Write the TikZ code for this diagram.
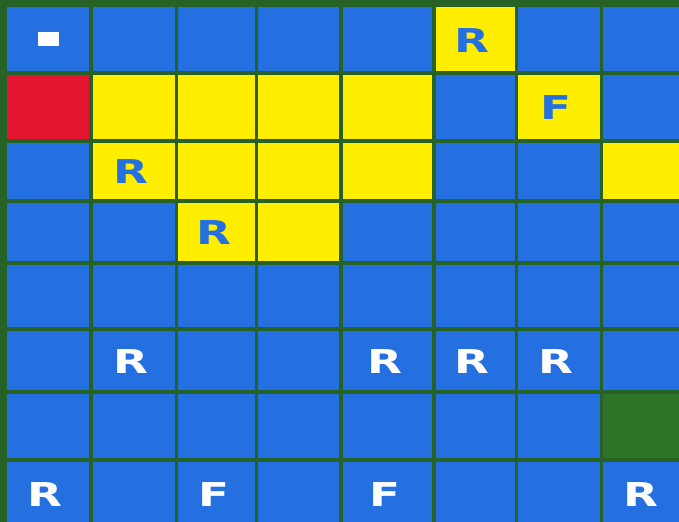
\documentclass[tikz,border=0pt]{standalone}
\usepackage{fontspec}
\setmainfont{DejaVu Sans}
\usepackage{graphicx}
\usepackage{tikz}
\usetikzlibrary{positioning}
\usepackage{xcolor}
\definecolor{gridgreen}{RGB}{38,98,38}
\definecolor{cellblue}{RGB}{36,112,224}
\definecolor{cellyellow}{RGB}{255,238,0}
\definecolor{cellred}{RGB}{226,22,46}
\definecolor{cellgreen}{RGB}{46,116,40}
\tikzset{
    bluecell/.style={
        fill=cellblue
    },
    yellowcell/.style={
        fill=cellyellow
    },
    redcell/.style={
        fill=cellred
    },
    holecell/.style={
        fill=cellgreen
    },
    letter/.style={
        inner sep=0pt,
        xshift=-0.06cm,
        yshift=-0.02cm,
        font=\fontsize{18.7}{20}\selectfont\bfseries
    },
    onyellow/.style={
        letter,
        text=cellblue
    },
    onblue/.style={
        letter,
        text=white
    },
    marker/.style={
        fill=white,
        inner sep=0pt,
        minimum width=0.42cm,
        minimum height=0.28cm
    }
}
\newcommand{\wideletter}[1]{\scalebox{1.38}[1]{#1}}

\begin{document}
\begin{tikzpicture}[x=0.02cm, y=-0.02cm]
    \useasboundingbox (0,0) rectangle (679,521);
    \clip (0,0) rectangle (679,521);
    % Board
    \fill[gridgreen] (-20,-20) rectangle (700,540);
    \foreach \c/\xa/\xb in {1/7/89.25, 2/92.75/174.75, 3/178.25/254.75, 4/258.25/339.25,
                            5/342.75/432.25, 6/435.75/514.75, 7/518.25/599.75, 8/603.25/685}
        \foreach \r/\ya/\yb in {1/7/71.25, 2/74.75/139.25, 3/142.75/199.25, 4/202.75/261.25,
                                5/264.75/327.25, 6/330.75/390.25, 7/393.75/458.25, 8/461.75/526} {
            \coordinate (nw-\r-\c) at (\xa,\ya);
            \coordinate (se-\r-\c) at (\xb,\yb);
            \coordinate (c-\r-\c) at ({(\xa+\xb)/2},{(\ya+\yb)/2});
            \fill[bluecell] (nw-\r-\c) rectangle (se-\r-\c);
        }
    % Coloured cells
    \foreach \r/\c in {1/6, 2/2, 2/3, 2/4, 2/5, 2/7, 3/2, 3/3, 3/4, 3/5, 3/8, 4/3, 4/4}
        \fill[yellowcell] (nw-\r-\c) rectangle (se-\r-\c);
    \fill[redcell] (nw-2-1) rectangle (se-2-1);
    \fill[holecell] (nw-7-8) rectangle (se-7-8);

    % Marks on yellow
    \node[marker] (start) at (c-1-1) {};
    \node[onyellow] (r-1-6) at (c-1-6) {\wideletter{R}};
    \node[onyellow] (f-2-7) at (c-2-7) {\wideletter{F}};
    \node[onyellow] (r-3-2) at (c-3-2) {\wideletter{R}};
    \node[onyellow] (r-4-3) at (c-4-3) {\wideletter{R}};

    % Marks on blue
    \node[onblue] (r-6-2) at (c-6-2) {\wideletter{R}};
    \node[onblue] (r-6-5) at (c-6-5) {\wideletter{R}};
    \node[onblue] (r-6-6) at (c-6-6) {\wideletter{R}};
    \node[onblue] (r-6-7) at (c-6-7) {\wideletter{R}};
    \node[onblue] (r-8-1) at (c-8-1) {\wideletter{R}};
    \node[onblue] (f-8-3) at (c-8-3) {\wideletter{F}};
    \node[onblue] (f-8-5) at (c-8-5) {\wideletter{F}};
    \node[onblue] (r-8-8) at (c-8-8) {\wideletter{R}};
\end{tikzpicture}
\end{document}
